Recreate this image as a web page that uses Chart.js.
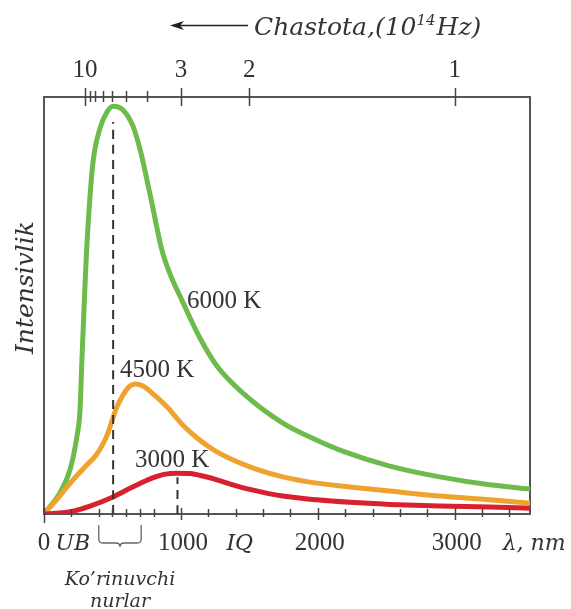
<!DOCTYPE html>
<html>
<head>
<meta charset="utf-8">
<script src="https://cdn.jsdelivr.net/npm/chart.js@4.4.0/dist/chart.umd.min.js"></script>
<style>
html, body { margin: 0; padding: 0; background: #fff; }
#wrap { width: 571px; height: 609px; }
</style>
</head>
<body>
<div id="wrap"><canvas id="planck" width="571" height="609"></canvas></div>
<script>
// to'lqin uzunligi (nm) va intensivlik (shartli birlik) - rasmdan o'qilgan
const lam6000 = [0, 120, 190, 240, 263, 277, 292, 307, 328, 358, 410, 460, 504, 577, 650, 708, 752, 788, 825, 861, 920, 1007, 1139, 1263, 1453, 1745, 1993, 2197, 2526, 2891, 3255, 3550];
const int6000 = [0, 5.3, 10.6, 18.5, 24.9, 36.9, 48.9, 60.4, 72.4, 84.4, 92.6, 96.4, 97.8, 96.9, 93.0, 86.6, 80.1, 74.6, 68.6, 63.3, 57.6, 51.3, 42.2, 35.5, 29.0, 21.8, 17.7, 14.9, 11.5, 8.9, 7.0, 6.0];

const lam4500 = [0, 102, 212, 314, 380, 431, 467, 496, 533, 577, 620, 664, 723, 796, 898, 1015, 1139, 1263, 1504, 1745, 1993, 2234, 2526, 2891, 3255, 3550];
const int4500 = [0, 3.8, 8.2, 11.8, 14.1, 16.8, 19.4, 22.3, 25.7, 28.5, 30.5, 31.2, 30.7, 28.8, 25.7, 21.3, 17.7, 14.9, 11.3, 8.9, 7.4, 6.5, 5.5, 4.3, 3.4, 2.6];

const lam3000 = [0, 117, 212, 336, 504, 606, 701, 788, 876, 971, 1066, 1161, 1263, 1380, 1504, 1745, 1993, 2234, 2526, 2891, 3255, 3550];
const int3000 = [0, 0.24, 0.7, 1.9, 4.1, 5.8, 7.3, 8.6, 9.5, 9.8, 9.7, 9.1, 8.2, 7.0, 5.9, 4.3, 3.4, 2.8, 2.3, 1.9, 1.7, 1.4];

// maksimumlarga tushirilgan shtrix chiziqlar
const peakLam = [505, 975];
const peakTop = [94, 8.8];

// pastki o'q
const majorTicks = [0, 1000, 2000, 3000];
const minorTicks = [200, 400, 500, 600, 700, 800, 1200, 1400, 1600, 1800, 2200, 2400, 2600, 2800, 3200, 3400];
// yuqori o'q: chastota, 10^14 Hz
const freqTicks = [10, 9, 8, 7, 6, 5, 4, 3, 2, 1];
const freqLabels = [10, 3, 2, 1];

// egri chiziq yozuvlari (nm, intensivlik)
const curveLabels = [
    { text: "6000 K", x: 1044, y: 49.4 },
    { text: "4500 K", x: 555, y: 32.9 },
    { text: "3000 K", x: 664, y: 11.3 }
];

function pts(xs, ys) {
    return xs.map((v, i) => ({ x: v, y: ys[i] }));
}

const serif = '"Liberation Serif", "Times New Roman", serif';
const ital = 'italic 22px "DejaVu Serif", serif';
const ink = '#333';

const decor = {
    id: 'decor',
    afterDraw(chart) {
        const ctx = chart.ctx;
        const a = chart.chartArea;
        const sx = chart.scales.x;
        ctx.save();
        ctx.strokeStyle = '#444';
        ctx.fillStyle = ink;
        ctx.lineWidth = 1.5;

        // pastki o'q chiziqchalari
        majorTicks.forEach(v => {
            const px = Math.round(sx.getPixelForValue(v)) + 0.5;
            ctx.beginPath();
            ctx.moveTo(px, a.bottom - 6);
            ctx.lineTo(px, a.bottom + (v === 0 ? 9 : 6));
            ctx.stroke();
        });
        minorTicks.forEach(v => {
            const px = Math.round(sx.getPixelForValue(v)) + 0.5;
            ctx.beginPath();
            ctx.moveTo(px, a.bottom - 5);
            ctx.lineTo(px, a.bottom + 3);
            ctx.stroke();
        });

        // yuqori o'q chiziqchalari
        freqTicks.forEach(f => {
            const px = Math.round(sx.getPixelForValue(3000 / f)) + 0.5;
            const big = freqLabels.includes(f);
            ctx.beginPath();
            ctx.moveTo(px, a.top - (big ? 9 : 6));
            ctx.lineTo(px, a.top + (big ? 9 : 5));
            ctx.stroke();
        });

        // raqamlar
        ctx.font = '25px ' + serif;
        ctx.textAlign = 'center';
        ctx.textBaseline = 'alphabetic';
        majorTicks.forEach(v => {
            ctx.fillText(String(v), sx.getPixelForValue(v) + (v === 0 ? 0 : 2), a.bottom + 36);
        });
        freqLabels.forEach(f => {
            ctx.fillText(String(f), sx.getPixelForValue(3000 / f), a.top - 20);
        });

        // egri chiziq nomlari
        ctx.textAlign = 'left';
        curveLabels.forEach(l => {
            ctx.fillText(l.text, sx.getPixelForValue(l.x), chart.scales.y.getPixelForValue(l.y));
        });

        // kursiv yozuvlar
        ctx.font = ital;
        ctx.textAlign = 'center';
        ctx.fillText('UB', sx.getPixelForValue(210), a.bottom + 36);
        ctx.fillText('IQ', sx.getPixelForValue(1430), a.bottom + 36);
        ctx.fillText('\u03bb, nm', sx.getPixelForValue(3580), a.bottom + 36);

        // ko'rinuvchi nurlar qavsi
        const b0 = sx.getPixelForValue(400), b1 = sx.getPixelForValue(710);
        const bm = (b0 + b1) / 2, bt = a.bottom + 11, bb = a.bottom + 29;
        ctx.strokeStyle = '#666';
        ctx.lineWidth = 1.3;
        ctx.beginPath();
        ctx.moveTo(b0, bt);
        ctx.lineTo(b0, bb - 4);
        ctx.quadraticCurveTo(b0, bb, b0 + 4, bb);
        ctx.lineTo(bm - 4, bb);
        ctx.quadraticCurveTo(bm, bb, bm, bb + 4);
        ctx.quadraticCurveTo(bm, bb, bm + 4, bb);
        ctx.lineTo(b1 - 4, bb);
        ctx.quadraticCurveTo(b1, bb, b1, bb - 4);
        ctx.lineTo(b1, bt);
        ctx.stroke();

        ctx.font = 'italic 19px "DejaVu Serif", serif';
        ctx.fillText('Ko\u2019rinuvchi', bm, a.bottom + 71);
        ctx.fillText('nurlar', bm, a.bottom + 93);

        // y o'qi nomi
        ctx.save();
        ctx.translate(24, (a.top + a.bottom) / 2 - 18);
        ctx.rotate(-Math.PI / 2);
        ctx.font = 'italic 25px "DejaVu Serif", serif';
        ctx.fillText('Intensivlik', 0, 9);
        ctx.restore();

        // chastota strelkasi va nomi
        ctx.strokeStyle = '#222';
        ctx.lineWidth = 1.5;
        ctx.beginPath();
        ctx.moveTo(176, 25.5);
        ctx.lineTo(248, 25.5);
        ctx.stroke();
        ctx.beginPath();
        ctx.moveTo(170, 25.5);
        ctx.lineTo(184, 21);
        ctx.lineTo(180, 25.5);
        ctx.lineTo(184, 30);
        ctx.closePath();
        ctx.fillStyle = '#222';
        ctx.fill();

        ctx.fillStyle = ink;
        ctx.textAlign = 'left';
        ctx.font = 'italic 25px "DejaVu Serif", serif';
        let tx = 254;
        const ty = 35;
        ctx.fillText('Chastota,(10', tx, ty);
        tx += ctx.measureText('Chastota,(10').width;
        ctx.font = 'italic 15px "DejaVu Serif", serif';
        ctx.fillText('14', tx, ty - 10);
        tx += ctx.measureText('14').width + 1;
        ctx.font = 'italic 25px "DejaVu Serif", serif';
        ctx.fillText('Hz)', tx, ty);

        ctx.restore();
    }
};

const frame = { display: true, color: '#555', width: 2 };
const hideX = s => { s.height = 0; };
const hideY = s => { s.width = 0; };

const datasets = [
    {
        data: pts(lam3000, int3000),
        borderColor: '#d8202f',
        borderWidth: 5,
        order: 1
    },
    {
        data: pts(lam4500, int4500),
        borderColor: '#f0a22e',
        borderWidth: 5,
        order: 2
    },
    {
        data: pts(lam6000, int6000),
        borderColor: '#6cbb4c',
        borderWidth: 5,
        order: 3
    }
];
peakLam.forEach((l, i) => {
    datasets.push({
        data: [{ x: l, y: 0 }, { x: l, y: peakTop[i] }],
        borderColor: '#333',
        borderWidth: 2,
        borderDash: [9, 6],
        order: 0
    });
});
datasets.forEach(d => {
    d.pointRadius = 0;
    d.pointHitRadius = 0;
    d.fill = false;
    d.cubicInterpolationMode = 'monotone';
});

new Chart(document.getElementById('planck').getContext('2d'), {
    type: 'line',
    data: { datasets: datasets },
    options: {
        responsive: false,
        animation: false,
        events: [],
        layout: { padding: { left: 44, right: 41, top: 97, bottom: 95 } },
        plugins: { legend: { display: false }, tooltip: { enabled: false } },
        scales: {
            x: { type: 'linear', min: 0, max: 3550, ticks: { display: false }, grid: { display: false }, border: frame, afterFit: hideX },
            xTop: { type: 'linear', position: 'top', min: 0, max: 3550, ticks: { display: false }, grid: { display: false }, border: frame, afterFit: hideX },
            y: { type: 'linear', min: 0, max: 100, ticks: { display: false }, grid: { display: false }, border: frame, afterFit: hideY },
            yRight: { type: 'linear', position: 'right', min: 0, max: 100, ticks: { display: false }, grid: { display: false }, border: frame, afterFit: hideY }
        }
    },
    plugins: [decor]
});
</script>
</body>
</html>
